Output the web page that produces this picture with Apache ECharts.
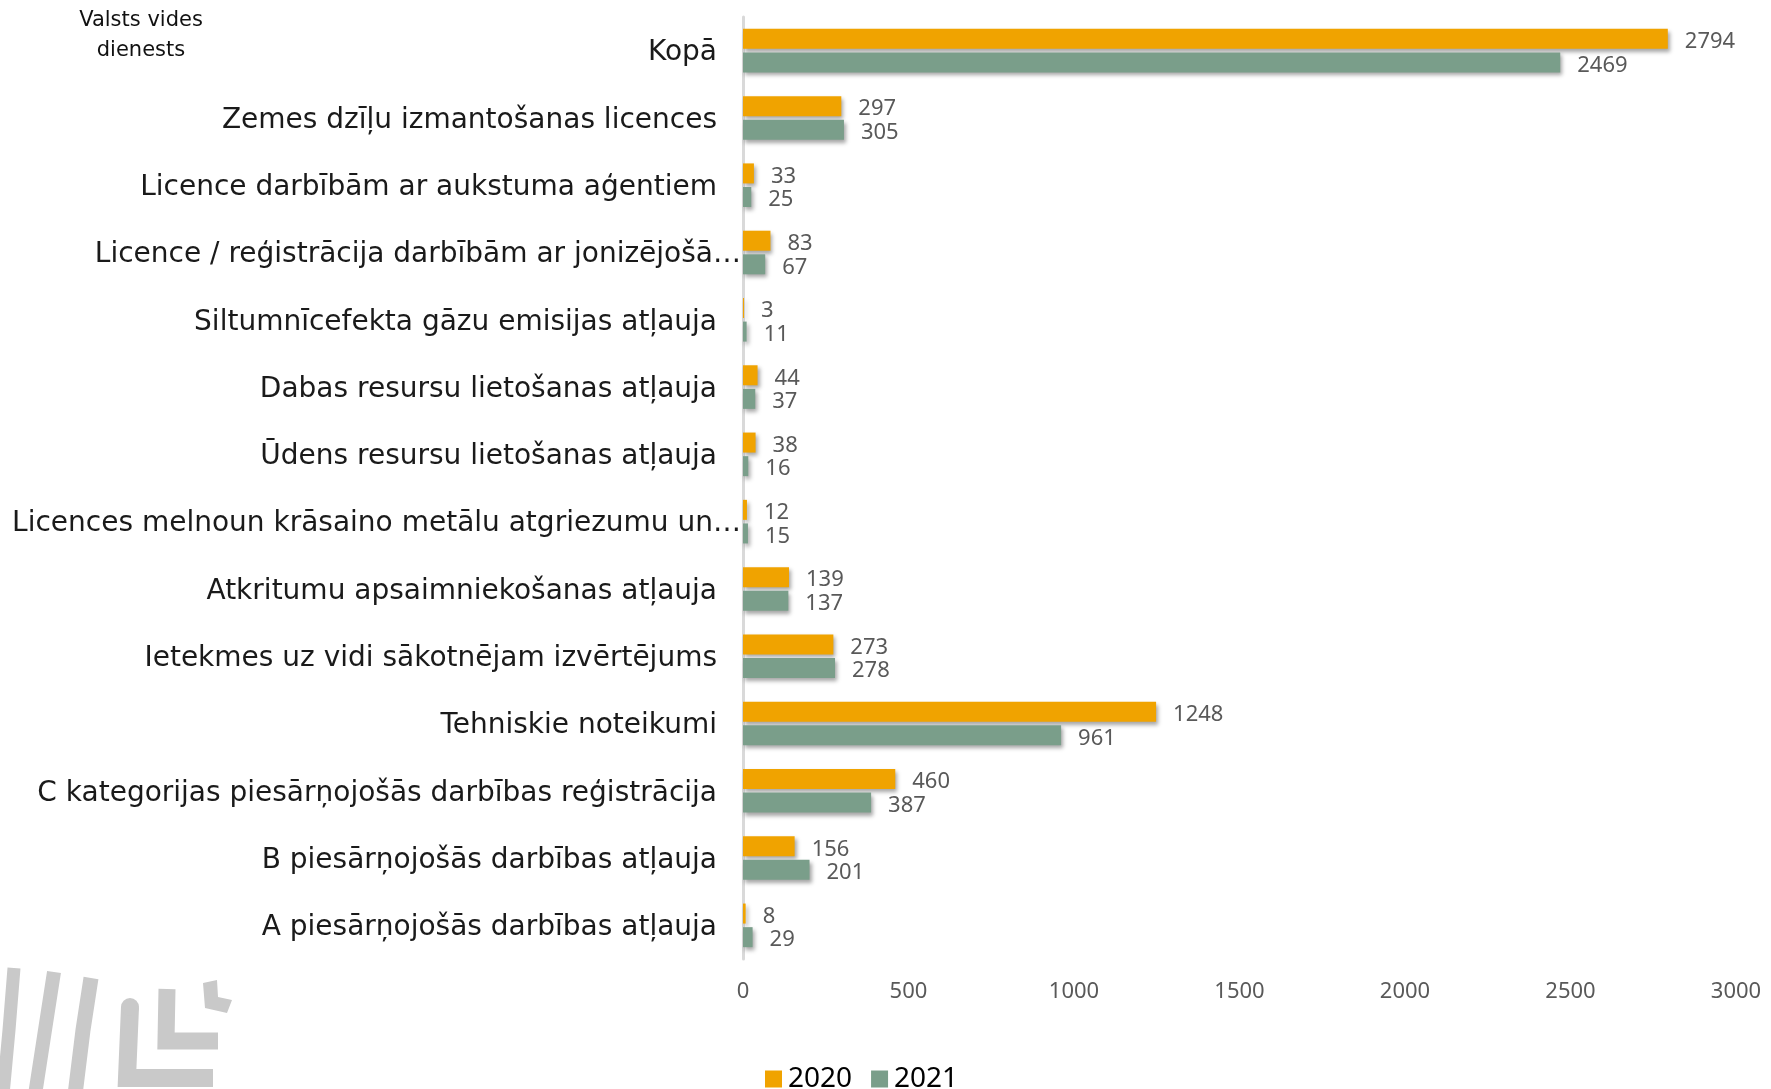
<!DOCTYPE html>
<html>
<head>
<meta charset="utf-8">
<script src="https://cdn.jsdelivr.net/npm/echarts@6/dist/echarts.min.js"></script>
<style>
  html, body { margin: 0; padding: 0; background: #ffffff; }
  #chart { width: 1771px; height: 1089px; }
</style>
</head>
<body>
<div id="chart"></div>
<script>
// Permit and licence categories (top to bottom)
const categories = [
  'Kopā',
  'Zemes dzīļu izmantošanas licences',
  'Licence darbībām ar aukstuma aģentiem',
  'Licence / reģistrācija darbībām ar jonizējošā…',
  'Siltumnīcefekta gāzu emisijas atļauja',
  'Dabas resursu lietošanas atļauja',
  'Ūdens resursu lietošanas atļauja',
  'Licences melnoun krāsaino metālu atgriezumu un…',
  'Atkritumu apsaimniekošanas atļauja',
  'Ietekmes uz vidi sākotnējam izvērtējums',
  'Tehniskie noteikumi',
  'C kategorijas piesārņojošās darbības reģistrācija',
  'B piesārņojošās darbības atļauja',
  'A piesārņojošās darbības atļauja'
];
const values2020 = [2794, 297, 33, 83, 3, 44, 38, 12, 139, 273, 1248, 460, 156, 8];
const values2021 = [2469, 305, 25, 67, 11, 37, 16, 15, 137, 278, 961, 387, 201, 29];
const seriesNames = ['2020', '2021'];

const ORANGE = '#F0A300';
const GREEN = '#7A9E8A';
const LOGO_GREY = '#c9c9c9';
const FONT = '"Noto Sans", "DejaVu Sans", sans-serif';
const WIDE_FONT = '"DejaVu Sans", "Noto Sans", sans-serif';

const barShadow = {
  shadowColor: 'rgba(0,0,0,0.35)',
  shadowBlur: 4,
  shadowOffsetX: 2,
  shadowOffsetY: 3
};

function barSeries(name, data, color) {
  return {
    name: name,
    type: 'bar',
    data: data,
    barWidth: 20,
    barGap: '18%',
    itemStyle: Object.assign({ color: color }, barShadow),
    label: {
      show: true,
      position: 'right',
      distance: 17,
      offset: [0, 3],
      color: '#595959',
      fontFamily: FONT,
      fontSize: 22
    }
  };
}

const chart = echarts.init(document.getElementById('chart'), null, { renderer: 'canvas' });

chart.setOption({
  backgroundColor: '#ffffff',
  animation: false,
  grid: { left: 743, right: 35, top: 17, bottom: 130, containLabel: false },
  xAxis: {
    type: 'value',
    min: 0,
    max: 3000,
    interval: 500,
    axisLine: { show: false },
    axisTick: { show: false },
    splitLine: { show: false },
    axisLabel: {
      color: '#595959', fontFamily: FONT, fontSize: 22, margin: 22,
      formatter: function (v) { return String(v); }
    }
  },
  yAxis: {
    type: 'category',
    data: categories,
    inverse: true,
    axisLine: { show: true, lineStyle: { color: '#d9d9d9', width: 3 } },
    axisTick: { show: false },
    axisLabel: {
      margin: 2,
      formatter: function (v) {
        return v.endsWith('…') ? '{cut|' + v + '}' : '{full|' + v + '}';
      },
      rich: {
        full: { color: '#1a1a1a', fontFamily: WIDE_FONT, fontSize: 28, padding: [5, 24, 0, 0] },
        cut: { color: '#1a1a1a', fontFamily: WIDE_FONT, fontSize: 28, padding: [5, 0, 0, 0] }
      }
    }
  },
  legend: {
    data: seriesNames,
    left: 760,
    top: 1060,
    itemWidth: 17,
    itemHeight: 17,
    itemGap: 19,
    icon: 'rect',
    textStyle: { color: '#000000', fontFamily: FONT, fontSize: 28, padding: [0, 0, 0, 1] }
  },
  series: [
    barSeries(seriesNames[0], values2020, ORANGE),
    barSeries(seriesNames[1], values2021, GREEN)
  ],
  graphic: [
    {
      type: 'text',
      style: {
        text: 'Valsts vides\ndienests',
        fill: '#111111',
        font: '21px ' + WIDE_FONT,
        align: 'center',
        verticalAlign: 'top',
        lineHeight: 30,
        x: 141,
        y: 6
      }
    },
    // agency logo in the lower-left corner
    { type: 'polyline', z: -1, shape: { points: [[14, 968], [9, 1030], [3, 1095]] },
      style: { stroke: LOGO_GREY, lineWidth: 13, fill: null } },
    { type: 'polyline', z: -1, shape: { points: [[54, 972], [45, 1030], [35, 1095]] },
      style: { stroke: LOGO_GREY, lineWidth: 14, fill: null } },
    { type: 'polyline', z: -1, shape: { points: [[91, 978], [83, 1030], [75, 1095]] },
      style: { stroke: LOGO_GREY, lineWidth: 15, fill: null } },
    { type: 'polyline', z: -1, shape: { points: [[130, 1007], [127, 1078], [213, 1078]] },
      style: { stroke: LOGO_GREY, lineWidth: 18, fill: null, lineJoin: 'miter' } },
    { type: 'circle', z: -1, shape: { cx: 130, cy: 1007, r: 9 }, style: { fill: LOGO_GREY } },
    { type: 'polyline', z: -1, shape: { points: [[167, 989], [166, 1041], [218, 1041]] },
      style: { stroke: LOGO_GREY, lineWidth: 17, fill: null, lineJoin: 'miter' } },
    { type: 'polygon', z: -1, shape: { points: [[203, 983], [217, 980], [218, 997], [232, 1000], [227, 1013], [205, 1008]] },
      style: { fill: LOGO_GREY } }
  ]
});
</script>
</body>
</html>
